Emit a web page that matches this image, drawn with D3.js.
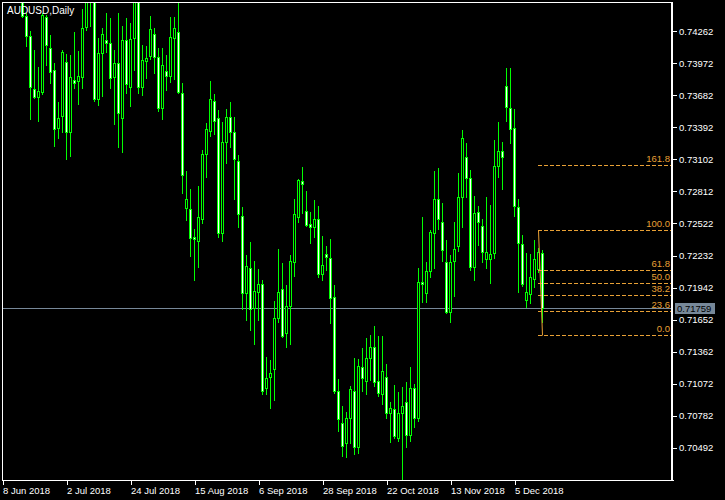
<!DOCTYPE html>
<html><head><meta charset="utf-8">
<script src="https://cdn.jsdelivr.net/npm/d3@7"></script>
<style>
html,body{margin:0;padding:0;background:#000;}
svg{display:block;}
text{font-family:"Liberation Sans",Arial,sans-serif;}
</style>
</head><body>
<svg id="chart" width="725" height="500"></svg>
<script>
const symbolTitle = "AUDUSD,Daily";
const opens = [0.74572,0.74400,0.74219,0.73740,0.73667,0.73712,0.74391,0.74111,0.73911,0.73387,
0.73495,0.73984,0.73350,0.73821,0.73812,0.73848,0.74301,0.74654,0.74563,0.73649,
0.74065,0.74183,0.74156,0.73848,0.73975,0.73477,0.74183,0.73758,0.74201,0.74563,
0.73758,0.73993,0.74038,0.74237,0.74029,0.73568,0.73902,0.73857,0.74201,0.74255,
0.73703,0.72663,0.72654,0.72400,0.72364,0.72563,0.73151,0.73359,0.73631,0.73477,
0.72436,0.73260,0.73486,0.73350,0.73088,0.72590,0.71893,0.72120,0.71758,0.71902,
0.71975,0.71034,0.71133,0.71206,0.71667,0.71930,0.71531,0.71776,0.72174,0.72581,
0.72907,0.72635,0.72518,0.72491,0.72563,0.72065,0.72246,0.72210,0.71857,0.71006,
0.70717,0.70536,0.70762,0.71006,0.70500,0.71224,0.71097,0.71305,0.71405,0.71097,
0.70979,0.71133,0.70807,0.70844,0.70581,0.70807,0.70907,0.70608,0.71034,0.70762,
0.71993,0.71893,0.72092,0.72436,0.72744,0.72536,0.72174,0.71721,0.72183,0.72319,
0.72762,0.73124,0.72934,0.72129,0.72626,0.72500,0.72201,0.72201,0.72255,0.73043,
0.73178,0.73767,0.73568,0.73387,0.72672,0.72337,0.71830,0.71884,0.72020,0.72111,
0.72255];
const highs = [0.74636,0.74427,0.74264,0.74092,0.73939,0.74427,0.74409,0.74228,0.73975,0.73622,
0.74092,0.74056,0.74047,0.74255,0.74083,0.74464,0.74617,0.74681,0.74590,0.74201,
0.74292,0.74427,0.74382,0.74092,0.74427,0.74310,0.74382,0.74337,0.74617,0.74599,
0.74138,0.74129,0.74400,0.74292,0.74111,0.74111,0.74047,0.74391,0.74391,0.74572,
0.73794,0.72997,0.72835,0.72473,0.72862,0.73187,0.73432,0.73812,0.73694,0.73549,
0.73441,0.73559,0.73622,0.73486,0.73142,0.72672,0.72237,0.72355,0.72183,0.72111,
0.72011,0.71314,0.71287,0.71821,0.72292,0.72165,0.71966,0.72237,0.72744,0.72925,
0.73034,0.72816,0.72626,0.72735,0.72681,0.72409,0.72319,0.72382,0.71966,0.71115,
0.70871,0.70816,0.71052,0.71305,0.71296,0.71396,0.71486,0.71513,0.71595,0.71504,
0.71504,0.71251,0.70907,0.71061,0.70997,0.71043,0.71088,0.71224,0.71070,0.72120,
0.72581,0.72174,0.72463,0.72997,0.73025,0.72708,0.72373,0.72237,0.72536,0.72979,
0.73368,0.73251,0.73006,0.72771,0.72681,0.72563,0.72762,0.72690,0.73278,0.73441,
0.73260,0.73930,0.73930,0.73559,0.72744,0.72418,0.72255,0.72246,0.72373,0.72301,
0.72282];
const lows = [0.74391,0.74129,0.73468,0.73658,0.73450,0.73694,0.73957,0.73794,0.73224,0.73296,
0.73350,0.73106,0.73133,0.73749,0.73604,0.73749,0.74273,0.74310,0.73631,0.73595,
0.73676,0.74074,0.73749,0.73423,0.73215,0.73169,0.73703,0.73586,0.73911,0.73703,
0.73685,0.73839,0.74011,0.73884,0.73540,0.73468,0.73730,0.73803,0.73830,0.73703,
0.72798,0.72554,0.72228,0.72011,0.72129,0.72527,0.72943,0.73314,0.73332,0.72400,
0.72364,0.73070,0.73215,0.72744,0.72491,0.71749,0.71649,0.71558,0.71432,0.71649,
0.70979,0.70979,0.70853,0.70925,0.71631,0.71495,0.71405,0.71432,0.72047,0.72536,
0.72617,0.72500,0.72346,0.72400,0.72038,0.72011,0.72101,0.71622,0.70988,0.70644,
0.70418,0.70409,0.70536,0.70436,0.70445,0.71006,0.70979,0.71106,0.71052,0.70961,
0.70889,0.70762,0.70545,0.70581,0.70554,0.70156,0.70500,0.70554,0.70681,0.70735,
0.71812,0.71812,0.72038,0.72120,0.72473,0.72183,0.71712,0.71631,0.71866,0.72273,
0.72491,0.72762,0.72101,0.72011,0.72328,0.72174,0.72120,0.71984,0.72210,0.72943,
0.72835,0.73450,0.73251,0.72590,0.71902,0.71957,0.71767,0.71803,0.71948,0.72083,
0.71631];
const closes = [0.74403,0.74219,0.73758,0.73667,0.73721,0.74409,0.74138,0.73893,0.73378,0.73477,
0.74074,0.73350,0.73848,0.73794,0.73857,0.74292,0.74563,0.74563,0.73649,0.74065,
0.74237,0.74156,0.73839,0.73975,0.73522,0.74183,0.73785,0.74192,0.74563,0.73758,
0.74002,0.74020,0.74283,0.74029,0.73568,0.73957,0.73857,0.74210,0.74292,0.73712,
0.72961,0.72744,0.72391,0.72382,0.72581,0.73151,0.73378,0.73649,0.73450,0.72436,
0.73260,0.73486,0.73350,0.73106,0.72608,0.71893,0.72138,0.71749,0.71911,0.71975,
0.71006,0.71124,0.71169,0.71667,0.71902,0.71504,0.71776,0.72183,0.72608,0.72916,
0.72880,0.72509,0.72491,0.72563,0.72065,0.72147,0.72219,0.71848,0.71006,0.70753,
0.70509,0.70762,0.71025,0.70500,0.71233,0.71124,0.71305,0.71405,0.71088,0.70988,
0.71187,0.70807,0.70853,0.70599,0.70807,0.70871,0.70608,0.71034,0.70762,0.71993,
0.71975,0.72092,0.72445,0.72744,0.72563,0.72282,0.71721,0.72174,0.72292,0.72762,
0.73296,0.72934,0.72129,0.72617,0.72536,0.72264,0.72264,0.72246,0.73043,0.73178,
0.73124,0.73577,0.73378,0.72681,0.72346,0.71975,0.71902,0.72038,0.72201,0.72264,
0.71759];
const priceTicks = [0.74262,0.73972,0.73682,0.73392,0.73102,0.72812,0.72522,0.72232,0.71942,0.71652,0.71362,0.71072,0.70782,0.70492];
const dateTickLabels = ["8 Jun 2018","2 Jul 2018","24 Jul 2018","15 Aug 2018","6 Sep 2018","28 Sep 2018","22 Oct 2018","13 Nov 2018","5 Dec 2018"];
const fibLevels = [0.0, 23.6, 38.2, 50.0, 61.8, 100.0, 161.8];
const fibLow = 0.7151, fibHigh = 0.7246;
const bidPrice = 0.71759;

// trading days (weekdays) starting 8 Jun 2018; first visible candle is 15 Jun 2018
const totalBars = 136, firstBar = 5;
const dates = [];
for (let d = new Date(2018, 5, 8); dates.length < totalBars; d.setDate(d.getDate() + 1)) {
  const wd = d.getDay();
  if (wd !== 0 && wd !== 6) dates.push(new Date(d));
}
const fmt = d3.timeFormat("%-d %b %Y");
const candles = opens.map((o, k) => ({i: firstBar + k, date: dates[firstBar + k], o, h: highs[k], l: lows[k], c: closes[k]}));

const L = 2, R = 672, T = 2, B = 480;
const LIME = "#00ff00", FIB = "#e8a035", BID = "#778899";
const svg = d3.select("#chart");
svg.append("rect").attr("width", 725).attr("height", 500).attr("fill", "#000");

const x = d3.scaleLinear().domain([0, totalBars - 1]).range([2, 542]);
const y = d3.scaleLinear().domain([0.73102, 0.71652]).range([159.4, 319.6]);
const Y = v => Math.round(y(v));

svg.append("defs").append("clipPath").attr("id", "plot")
  .append("rect").attr("x", L + 1).attr("y", T + 1).attr("width", R - L - 1).attr("height", B - T - 1);
const plot = svg.append("g").attr("clip-path", "url(#plot)").attr("shape-rendering", "crispEdges");

// bid line
plot.append("rect").attr("x", L).attr("y", Y(bidPrice)).attr("width", R - L).attr("height", 1).attr("fill", BID);

// fibonacci
const fx0 = Math.round(x(134)), fx1 = Math.round(x(135));
const fibG = svg.append("g");
fibG.append("line").attr("x1", fx0 + 0.5).attr("y1", Y(fibHigh) + 0.5).attr("x2", fx1 + 0.5).attr("y2", Y(fibLow) + 0.5)
  .attr("stroke", FIB).attr("stroke-width", 1);
fibLevels.forEach(lv => {
  const p = fibLow + (fibHigh - fibLow) * lv / 100;
  const yy = Y(p) + 0.5;
  fibG.append("line").attr("x1", fx0).attr("x2", R).attr("y1", yy).attr("y2", yy)
    .attr("stroke", FIB).attr("stroke-width", 1).attr("stroke-dasharray", "4,2");
  fibG.append("text").attr("x", 670).attr("y", yy - 4).attr("text-anchor", "end")
    .attr("font-size", "9.5px").attr("fill", FIB).text(lv.toFixed(1));
});

// candles
const cg = plot.append("g");
candles.forEach(d => {
  const cx = Math.round(x(d.i));
  const yh = Y(d.h), yl = Y(d.l);
  cg.append("rect").attr("x", cx).attr("y", yh).attr("width", 1).attr("height", yl - yh + 1).attr("fill", LIME);
  const top = Y(Math.max(d.o, d.c)), bot = Y(Math.min(d.o, d.c));
  cg.append("rect").attr("x", cx - 1).attr("y", top).attr("width", 3).attr("height", bot - top + 1).attr("fill", LIME);
  if (bot - top > 1) {
    cg.append("rect").attr("x", cx).attr("y", top + 1).attr("width", 1).attr("height", bot - top - 1)
      .attr("fill", d.c < d.o ? "#ffffff" : "#000000");
  }
});

// frame
const fr = svg.append("g").attr("shape-rendering", "crispEdges");
fr.append("rect").attr("x", L).attr("y", T).attr("width", R - L).attr("height", 1).attr("fill", "#fff");
fr.append("rect").attr("x", L).attr("y", T).attr("width", 1).attr("height", B - T).attr("fill", "#fff");
fr.append("rect").attr("x", L).attr("y", B).attr("width", R - L + 2).attr("height", 1).attr("fill", "#fff");
fr.append("rect").attr("x", R - 1).attr("y", T).attr("width", 2).attr("height", B - T + 1).attr("fill", "#fff");

// price axis
const yAxis = d3.axisRight(y).tickValues(priceTicks).tickSize(4).tickPadding(2).tickFormat(d3.format(".5f"));
const ya = svg.append("g").attr("transform", `translate(${R + 1},0)`).call(yAxis);
ya.select(".domain").remove();
ya.selectAll("line").attr("stroke", "#fff").attr("shape-rendering", "crispEdges");
ya.selectAll("text").attr("fill", "#fff").attr("font-size", "9.5px").attr("font-family", "Liberation Sans, Arial, sans-serif");

// bid label
const by = Y(bidPrice);
svg.append("rect").attr("x", 675).attr("y", by - 5).attr("width", 40).attr("height", 11).attr("fill", BID);
svg.append("text").attr("x", 677).attr("y", by + 4).attr("font-size", "9.5px").attr("fill", "#000").text(d3.format(".5f")(bidPrice));

// date axis
const tickIdx = dateTickLabels.map(lab => dates.findIndex(dd => fmt(dd) === lab));
const xAxis = d3.axisBottom(x).tickValues(tickIdx).tickSize(4).tickPadding(2).tickFormat(i => fmt(dates[i]));
const xa = svg.append("g").attr("transform", `translate(0.5,${B + 1})`).call(xAxis);
xa.select(".domain").remove();
xa.selectAll("line").attr("stroke", "#fff").attr("shape-rendering", "crispEdges");
xa.selectAll("text").attr("fill", "#fff").attr("font-size", "9.5px").attr("text-anchor", "start")
  .attr("dx", "0px").attr("font-family", "Liberation Sans, Arial, sans-serif");

// title
svg.append("text").attr("x", 7).attr("y", 14).attr("font-size", "10px").attr("fill", "#fff").text(symbolTitle);
</script>
</body></html>
